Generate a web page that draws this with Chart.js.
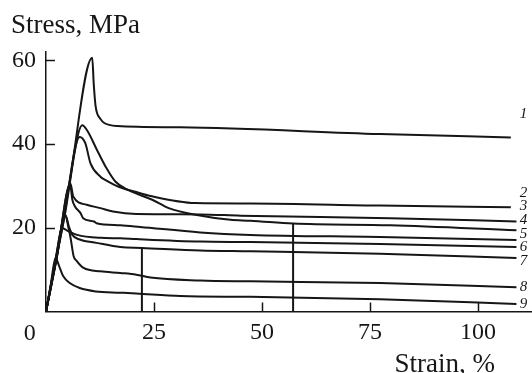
<!DOCTYPE html>
<html>
<head>
<meta charset="utf-8">
<script src="https://cdn.jsdelivr.net/npm/chart.js@4/dist/chart.umd.min.js"></script>
<style>
  html, body { margin: 0; padding: 0; background: #fff; }
  #wrap { width: 532px; height: 373px; }
</style>
</head>
<body>
<div id="wrap"><canvas id="c" width="532" height="373"></canvas></div>
<script>
// Stress–strain curves, numbered 1–9
const curveNames = ['1', '2', '3', '4', '5', '6', '7', '8', '9'];

const strain1 = [0, 5.35, 10.7, 11.05, 11.45, 11.85, 12.6, 13.4, 16.5, 31.1, 77.3, 107.6];
const stress1 = [0, 30.3, 60.6, 54.4, 49.3, 47.3, 46.0, 45.1, 44.3, 44.0, 42.4, 41.6];

const strain2 = [0, 3.9, 7.8, 9.1, 10.3, 12.6, 13.8, 16.8, 20.7, 24.2, 34.6, 47.3, 77.3, 107.6];
const stress2 = [0, 20.8, 41.7, 40.2, 35.4, 32.2, 31.4, 29.8, 28.6, 27.6, 25.9, 25.8, 25.3, 24.9];

const strain3 = [0, 2.8, 5.65, 6.3, 9.4, 12.6, 15.5, 20.9, 35.7, 45.0, 79.7, 108.9];
const stress3 = [0, 15.3, 30.6, 27.5, 25.5, 24.7, 23.9, 23.3, 23.2, 22.9, 22.3, 21.5];

const strain4 = [0, 4.2, 8.4, 9.5, 11.8, 13.8, 16.1, 19.1, 24.6, 28.4, 34.6, 42.7, 47.3, 57.2, 79.7, 108.9];
const stress4 = [0, 22.2, 44.5, 43.3, 38.6, 34.6, 31.0, 29.0, 26.7, 24.7, 23.1, 21.9, 21.7, 21.0, 20.6, 19.4];

const strain5 = [0, 2.8, 5.6, 6.1, 6.7, 8.0, 8.6, 11.1, 11.7, 17.2, 21.8, 35.7, 47.3, 77.3, 108.9];
const stress5 = [0, 15.2, 30.3, 26.7, 25.1, 23.5, 22.3, 21.5, 21.1, 20.6, 20.2, 18.9, 18.3, 17.8, 17.1];

const strain6 = [0, 1.9, 3.75, 4.8, 7.2, 12.6, 17.2, 20.9, 35.7, 47.3, 77.3, 108.9];
const stress6 = [0, 10.0, 19.9, 19.4, 18.3, 17.6, 17.5, 17.3, 16.7, 16.6, 16.1, 15.4];

const strain7 = [0, 2.25, 4.5, 5.3, 6.1, 7.8, 11.7, 17.2, 22.2, 35.7, 47.3, 77.3, 108.9];
const stress7 = [0, 11.5, 23.0, 20.3, 18.3, 17.2, 16.4, 15.4, 15.2, 14.6, 14.4, 13.8, 12.8];

const strain8 = [0, 2.25, 4.5, 5.2, 5.7, 6.4, 7.0, 8.7, 12.6, 17.2, 20.9, 24.2, 35.7, 47.3, 77.3, 108.9];
const stress8 = [0, 11.5, 23.0, 20.0, 17.5, 13.2, 12.2, 10.4, 9.6, 9.2, 8.8, 8.1, 7.4, 7.2, 6.8, 5.8];

const strain9 = [0, 1.1, 2.2, 2.5, 3.35, 4.0, 5.5, 7.8, 11.5, 17.2, 20.9, 31.1, 47.3, 77.3, 108.9];
const stress9 = [0, 6.4, 12.8, 12.3, 10.0, 8.4, 6.8, 5.6, 4.8, 4.5, 4.3, 3.7, 3.5, 2.9, 1.8];

// vertical guide lines dropped from curves 7 and 4 to the strain axis
const guideStrain = [22.2, 57.2];
const guideStress = [15.2, 21.0];

const xTicks = [25, 50, 75, 100];
const yTicks = [20, 40, 60];

// vertical nudges (px) of the curve numbers relative to each curve's end
const labelShift = [-23.5, -14.6, -15, -10, -6, 0.4, 2.7, 0, 0];

const strains = [strain1, strain2, strain3, strain4, strain5, strain6, strain7, strain8, strain9];
const stresses = [stress1, stress2, stress3, stress4, stress5, stress6, stress7, stress8, stress9];

const INK = '#161616';
const SERIF = '"Liberation Serif", "DejaVu Serif", serif';

const curveSets = curveNames.map((name, i) => ({
  label: name,
  data: strains[i].map((x, k) => ({ x, y: stresses[i][k] })),
  borderColor: INK,
  borderWidth: 2,
  pointRadius: 0,
  fill: false,
  cubicInterpolationMode: 'monotone'
}));

const guideSets = guideStrain.map((x, i) => ({
  label: 'guide' + (i + 1),
  data: [{ x, y: 0 }, { x, y: guideStress[i] }],
  borderColor: INK,
  borderWidth: 2,
  pointRadius: 0,
  fill: false,
  tension: 0
}));

const decor = {
  id: 'decor',
  afterDatasetsDraw(chart) {
    const { ctx, chartArea: a, scales: { x, y } } = chart;
    ctx.save();
    ctx.strokeStyle = INK;
    ctx.lineWidth = 1.5;
    // inward tick marks
    x.ticks.forEach(t => {
      const px = Math.round(x.getPixelForValue(t.value)) + 0.5;
      ctx.beginPath(); ctx.moveTo(px, a.bottom); ctx.lineTo(px, a.bottom - 9); ctx.stroke();
    });
    y.ticks.forEach(t => {
      const py = Math.round(y.getPixelForValue(t.value)) + 0.5;
      ctx.beginPath(); ctx.moveTo(a.left, py); ctx.lineTo(a.left + 9, py); ctx.stroke();
    });

    ctx.fillStyle = INK;
    // shared origin label
    ctx.font = '24px ' + SERIF;
    ctx.textAlign = 'center';
    ctx.textBaseline = 'middle';
    ctx.fillText('0', 29.7, a.bottom + 22);

    // axis titles
    ctx.font = '27px ' + SERIF;
    ctx.textBaseline = 'alphabetic';
    ctx.textAlign = 'left';
    ctx.fillText('Stress, MPa', 11, 33);
    ctx.textAlign = 'right';
    ctx.fillText('Strain, %', 495, 371.5);

    // curve numbers at the right-hand ends
    ctx.font = 'italic 15px ' + SERIF;
    ctx.textAlign = 'center';
    ctx.textBaseline = 'middle';
    curveNames.forEach((name, i) => {
      const s = stresses[i];
      const py = y.getPixelForValue(s[s.length - 1]) + labelShift[i];
      ctx.fillText(name, a.right - 8.5, py);
    });
    ctx.restore();
  }
};

new Chart(document.getElementById('c'), {
  type: 'line',
  data: { datasets: [...curveSets, ...guideSets] },
  options: {
    responsive: false,
    devicePixelRatio: 1,
    animation: false,
    layout: { padding: { top: 52, right: 0, bottom: 0, left: 0 } },
    plugins: { legend: { display: false }, tooltip: { enabled: false } },
    scales: {
      x: {
        type: 'linear',
        min: 0,
        max: 112.5,
        afterBuildTicks: s => { s.ticks = xTicks.map(v => ({ value: v })); },
        afterFit: s => { s.height = 61.5; },
        grid: { display: false, drawTicks: false },
        border: { display: true, color: INK, width: 1.5 },
        ticks: { color: INK, font: { family: SERIF, size: 24 }, padding: 7, maxRotation: 0 }
      },
      y: {
        type: 'linear',
        min: 0,
        max: 62,
        afterBuildTicks: s => { s.ticks = yTicks.map(v => ({ value: v })); },
        afterFit: s => { s.width = 46; },
        grid: { display: false, drawTicks: false },
        border: { display: true, color: INK, width: 1.5 },
        ticks: { color: INK, font: { family: SERIF, size: 24 }, padding: 10 }
      }
    }
  },
  plugins: [decor]
});
</script>
</body>
</html>
